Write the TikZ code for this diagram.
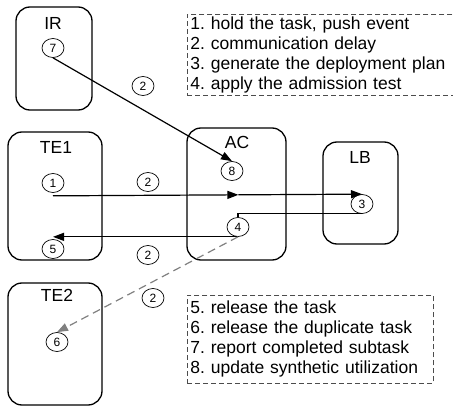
\documentclass[tikz,border=0pt]{standalone}
\usepackage{fontspec}
\setmainfont{Liberation Sans}
\frenchspacing
\usetikzlibrary{shapes.geometric,arrows.meta,positioning,calc}

\begin{document}
\begin{tikzpicture}[
    x=1pt, y=-1pt,
    unit/.style={rectangle, draw, rounded corners=14pt, line width=1.3pt},
    unitname/.style={font=\fontsize{17.5}{20}\selectfont, inner sep=0pt},
    tag/.style={ellipse, draw, line width=0.7pt, minimum width=22pt, minimum height=19pt, inner sep=0pt, font=\fontsize{12}{14}\selectfont},
    legend/.style={rectangle, draw=black!70, dash pattern=on 5pt off 3pt, line width=0.8pt, align=left, anchor=north west, inner xsep=3pt, inner ysep=2pt, font=\fontsize{17.5}{20}\selectfont},
    arrow/.style={-{Triangle[length=11pt,width=8pt]}, line width=1.2pt},
    dasharrow/.style={arrow, gray, dash pattern=on 8pt off 5pt},
    link/.style={line width=1.2pt}
]
\clip (0,0) rectangle (453,409);

% Units
\node[unit, minimum width=76pt, minimum height=103pt] (ir) at (54,58.5) {};
\node[unit, minimum width=94pt, minimum height=128pt] (te1) at (55,196) {};
\node[unit, minimum width=99pt, minimum height=132pt] (ac) at (236.5,194) {};
\node[unit, minimum width=75pt, minimum height=102pt] (lb) at (360.5,193) {};
\node[unit, minimum width=94pt, minimum height=122pt] (te2) at (55,344) {};

\node[unitname] (irname) at (53,23) {IR};
\node[unitname] (te1name) at (56,147) {TE1};
\node[unitname] (acname) at (237,142) {AC};
\node[unitname] (lbname) at (360,157) {LB};
\node[unitname] (te2name) at (57,295) {TE2};

% Event tags
\node[tag] (c7) at (53,48) {7};
\node[tag] (c1) at (53,183) {1};
\node[tag] (c5) at (53,249) {5};
\node[tag] (c8) at (232,171) {8};
\node[tag] (c4) at (238,227) {4};
\node[tag] (c3) at (362,204) {3};
\node[tag] (c6) at (57,342) {6};

% Delay tags
\node[tag] (d1) at (143,86) {2};
\node[tag] (d2) at (148,182) {2};
\node[tag] (d3) at (148,255) {2};
\node[tag] (d4) at (153,298) {2};

% Legends
\node[legend, text width=270pt, minimum height=81pt] (legtop) at (187,14)
  {1. hold the task, push event\\2. communication delay\\3. generate the deployment plan\\4. apply the admission test};
\node[legend, text width=240pt, minimum height=88pt] (legbot) at (187,295)
  {5. release the task\\6. release the duplicate task\\7. report completed subtask\\8. update synthetic utilization};

% Arrows
\coordinate (out1) at ([yshift=-3pt]c1.south);
\coordinate (mid13) at ($(out1)!0.6!(c3.north)$);
\draw[arrow] (c7.south) -- (c8.north);
\draw[arrow] (out1) -- (mid13);
\draw[arrow] (mid13) -- (c3.north);
\draw[link] (c3.south) -| (c4.north);
\draw[arrow] (c4.south) -- (c4.south -| c5.north);
\draw[dasharrow] (c4.south) -- (c6.north);

\end{tikzpicture}
\end{document}
